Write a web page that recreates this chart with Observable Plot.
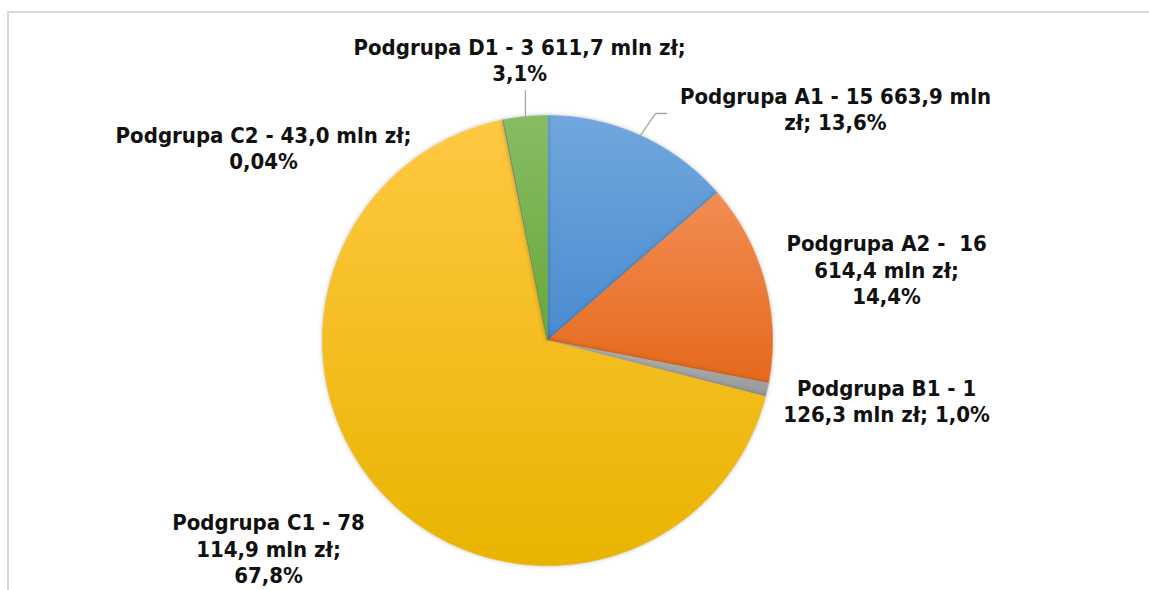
<!DOCTYPE html>
<html>
<head>
<meta charset="utf-8">
<script src="https://cdn.jsdelivr.net/npm/d3@7"></script>
<script src="https://cdn.jsdelivr.net/npm/@observablehq/plot@0.6"></script>
<style>
  html, body { margin: 0; padding: 0; background: #fff; width: 1149px; height: 590px; overflow: hidden; }
  #frame { position: absolute; left: 7px; top: 11px; width: 1200px; height: 700px; border: 2px solid #d9d9d9; box-sizing: border-box; }
  #chart { position: absolute; left: 0; top: 0; }
</style>
</head>
<body>
<div id="frame"></div>
<div id="chart"></div>
<script>
// ---- data ----
const names = ["Podgrupa A1", "Podgrupa A2", "Podgrupa B1", "Podgrupa C1", "Podgrupa C2", "Podgrupa D1"];
const values = [15663.9, 16614.4, 1126.3, 78114.9, 43.0, 3611.7];
const shares = ["13,6%", "14,4%", "1,0%", "67,8%", "0,04%", "3,1%"];
const labelTexts = [
  "Podgrupa A1 - 15 663,9 mln\nzł; 13,6%",
  "Podgrupa A2 -  16\n614,4 mln zł;\n14,4%",
  "Podgrupa B1 - 1\n126,3 mln zł; 1,0%",
  "Podgrupa C1 - 78\n114,9 mln zł;\n67,8%",
  "Podgrupa C2 - 43,0 mln zł;\n0,04%",
  "Podgrupa D1 - 3 611,7 mln zł;\n3,1%"
];

// ---- layout / style (not data) ----
const cx = 547, cy = 340, R = 225, W = 1149, H = 590;
const labelPos = [ // label block centres, in pie-radius units
  [1.28, 1.031], [1.507, 0.316], [1.507, -0.267], [-1.24, -0.924], [-1.262, 0.858], [-0.124, 1.249]
];
const gradStops = [
  ["#71a7de", "#4a8bcf"],
  ["#f28d54", "#e5691b"],
  ["#b3b3b3", "#989898"],
  ["#ffc843", "#e9b400"],
  ["#4a7bcc", "#3c66b0"],
  ["#88bc63", "#68a83a"]
];

// ---- slice geometry from values ----
const total = d3.sum(values);
let acc = 0;
const slices = names.map((name, i) => {
  const a0 = acc / total * 2 * Math.PI;
  acc += values[i];
  const a1 = acc / total * 2 * Math.PI;
  const n = Math.max(2, Math.ceil((a1 - a0) / 0.005));
  const pts = [{x: 0, y: 0}];
  for (let k = 0; k <= n; k++) {
    const a = a0 + (a1 - a0) * k / n;
    pts.push({x: Math.sin(a), y: Math.cos(a)});
  }
  pts.push({x: 0, y: 0});
  return {name, pts, i};
});

const labels = names.map((name, i) => ({name, text: labelTexts[i], x: labelPos[i][0], y: labelPos[i][1]}));

const leaders = [
  [{x: -0.098, y: 1.111}, {x: -0.098, y: 0.995}],
  [{x: 0.529, y: 1.009}, {x: 0.48, y: 1.009}, {x: 0.413, y: 0.911}]
];

const plot = Plot.plot({
  width: W,
  height: H,
  margin: 0,
  x: {domain: [-cx / R, (W - cx) / R], axis: null},
  y: {domain: [(cy - H) / R, cy / R], axis: null},
  style: {fontFamily: "'DejaVu Sans Condensed', 'DejaVu Sans', sans-serif", background: "transparent", overflow: "visible"},
  marks: [
    ...slices.map(s => Plot.line(s.pts, {x: "x", y: "y", fill: `url(#g${s.i})`, stroke: `url(#g${s.i})`, strokeWidth: 0.6, curve: "linear"})),
    ...leaders.map(l => Plot.line(l, {x: "x", y: "y", stroke: "#a6a6a6", strokeWidth: 1.3})),
    Plot.text(labels, {x: "x", y: "y", text: "text", fontSize: 22, fontWeight: "bold", lineHeight: 1.2, fill: "#111", textAnchor: "middle"})
  ]
});

// gradients
const ns = "http://www.w3.org/2000/svg";
const defs = document.createElementNS(ns, "defs");
gradStops.forEach((st, i) => {
  const g = document.createElementNS(ns, "linearGradient");
  g.setAttribute("id", "g" + i);
  g.setAttribute("x1", "0"); g.setAttribute("y1", "0");
  g.setAttribute("x2", "0"); g.setAttribute("y2", "1");
  st.forEach((c, j) => {
    const s = document.createElementNS(ns, "stop");
    s.setAttribute("offset", j === 0 ? "0" : "1");
    s.setAttribute("stop-color", c);
    g.appendChild(s);
  });
  defs.appendChild(g);
});
plot.insertBefore(defs, plot.firstChild);
// soft shadow around the pie
const groups = plot.querySelectorAll(":scope > g");
for (let k = 0; k < slices.length && k < groups.length; k++) {
  groups[k].style.filter = "drop-shadow(0px 0px 2px rgba(0,0,0,0.25))";
}
document.getElementById("chart").appendChild(plot);
</script>
</body>
</html>
